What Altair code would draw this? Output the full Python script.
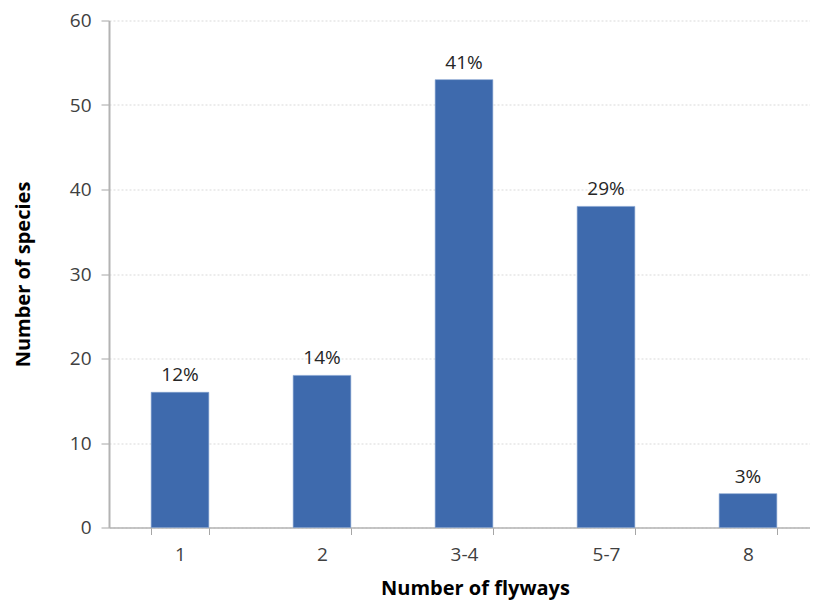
import altair as alt
import pandas as pd

categories = ["1", "2", "3-4", "5-7", "8"]
species = [16, 18, 53, 38, 4]
pct_labels = ["12%", "14%", "41%", "29%", "3%"]

df = pd.DataFrame({"cat": categories, "n": species, "pct": pct_labels})

FONT = "Open Sans"

xenc = alt.X(
    "cat:N",
    sort=categories,
    scale=alt.Scale(paddingInner=0.594, paddingOuter=0.297, range=[0, 710]),
    axis=alt.Axis(
        title="Number of flyways",
        titleFont=FONT,
        titleFontSize=20,
        titleFontWeight="bold",
        titleColor="#000000",
        titlePadding=14,
        titleX=366,
        labelAngle=0,
        labelFont=FONT,
        labelFontSize=19,
        labelColor="#404040",
        labelPadding=11,
        tickBand="extent",
        tickSize=7,
        tickColor="#a6a6a6",
        domainColor="#b3b3b3",
        domainWidth=1.5,
        grid=False,
    ),
)

yenc = alt.Y(
    "n:Q",
    scale=alt.Scale(domain=[0, 60], nice=False),
    axis=alt.Axis(
        title="Number of species",
        titleFont=FONT,
        titleFontSize=20,
        titleFontWeight="bold",
        titleColor="#000000",
        titlePadding=36,
        values=[0, 10, 20, 30, 40, 50, 60],
        labelFont=FONT,
        labelFontSize=19,
        labelColor="#404040",
        labelPadding=10,
        tickSize=8,
        tickColor="#a6a6a6",
        domainColor="#b3b3b3",
        domainWidth=2,
        grid=True,
        gridColor="#d9d9d9",
        gridDash=[2, 2],
        gridWidth=1,
    ),
)

bars = alt.Chart(df).mark_bar(
    color="#3e6aad", stroke="#7f9fcf", strokeWidth=0.6
).encode(x=xenc, y=yenc)

text = alt.Chart(df).mark_text(
    baseline="alphabetic", dy=-11, font=FONT, fontSize=19, color="#262626"
).encode(x=alt.X("cat:N", sort=categories), y="n:Q", text="pct:N")

chart = (
    alt.layer(bars, text)
    .properties(
        width=701,
        height=507,
        autosize=alt.AutoSizeParams(type="none"),
        padding={"left": 101, "top": 12.5, "right": 0, "bottom": 74},
    )
    .configure_view(stroke=None)
)

chart.save("out.html", embed_options={"renderer": "svg", "actions": False})
